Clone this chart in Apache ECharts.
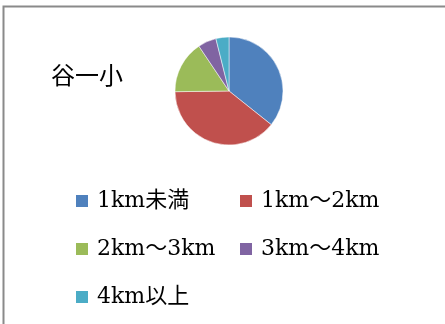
<!DOCTYPE html>
<html><head><meta charset="utf-8">
<script src="https://cdn.jsdelivr.net/npm/echarts@6/dist/echarts.min.js"></script>
<style>html,body{margin:0;padding:0;background:#fff}#c{width:445px;height:324px}</style>
</head><body><div id="c"></div>
<script>
const title = '谷一小';
const categories = ['1km未満', '1km～2km', '2km～3km', '3km～4km', '4km以上'];
const values = [35.7, 39.1, 15.8, 5.5, 3.9];
const colors = ['#4F81BD', '#C0504D', '#9BBB59', '#8064A2', '#4BACC6'];

const font = '"DejaVu Serif", "Noto Sans CJK JP", serif';
const legendPos = [[74, 190], [238, 190], [74, 238], [238, 238], [74, 286]];
const chart = echarts.init(document.getElementById('c'));
chart.setOption({
  animation: false,
  color: colors,
  title: { text: title, left: 46, top: 61, textStyle: { fontFamily: font, fontWeight: 'normal', fontSize: 24, color: '#000' } },
  graphic: [{ type: 'rect', shape: { x: 3.5, y: 6.5, width: 500, height: 400 }, style: { fill: 'none', stroke: '#8a8a8a', lineWidth: 2 } }],
  legend: categories.map((c, i) => ({
    data: [c], left: legendPos[i][0], top: legendPos[i][1], padding: 0,
    itemWidth: 14, itemHeight: 14, icon: 'rect', itemGap: 0,
    textStyle: { fontFamily: font, fontSize: 22, color: '#000', padding: [0, 0, 0, 3] }
  })),
  series: [{
    type: 'pie', center: [229, 91], radius: 54, startAngle: 90, clockwise: true,
    label: { show: false }, labelLine: { show: false },
    itemStyle: { borderColor: '#fff', borderWidth: 0.5 },
    data: categories.map((c, i) => ({ name: c, value: values[i] }))
  }]
});
</script></body></html>
